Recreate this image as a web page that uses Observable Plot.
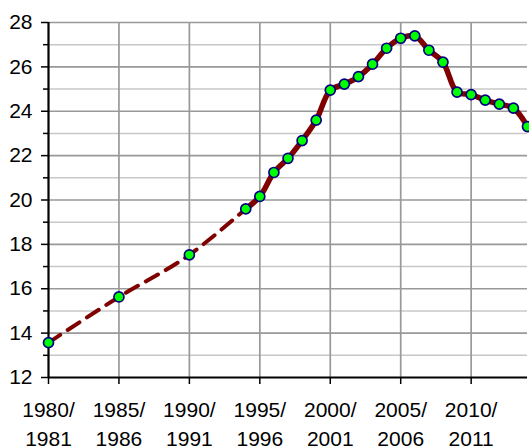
<!DOCTYPE html>
<html><head><meta charset="utf-8">
<script src="https://cdn.jsdelivr.net/npm/d3@7"></script>
<script src="https://cdn.jsdelivr.net/npm/@observablehq/plot@0.6"></script>
<style>body{margin:0;background:#fff;overflow:hidden}</style>
</head><body><div id="chart"></div>
<script>
const years = [1980,1985,1990,1994,1995,1996,1997,1998,1999,2000,2001,2002,2003,2004,2005,2006,2007,2008,2009,2010,2011,2012,2013,2014];
const values = [13.57,15.63,17.53,19.6,20.16,21.24,21.88,22.68,23.6,24.95,25.22,25.56,26.12,26.84,27.29,27.4,26.75,26.21,24.86,24.75,24.5,24.32,24.14,23.31];
const dashedYears = [1980,1985,1990,1994];
const xTicks = [1980,1985,1990,1995,2000,2005,2010];
const xTickLabels = ["1980/\n1981","1985/\n1986","1990/\n1991","1995/\n1996","2000/\n2001","2005/\n2006","2010/\n2011"];
const yMajor = [12,14,16,18,20,22,24,26,28];
const yMinor = [13,15,17,19,21,23,25,27];

const data = years.map((y,i)=>({year:y, value:values[i]}));
const dashedData = data.filter(d => d.year <= dashedYears[dashedYears.length-1]);
const solidData = data.filter(d => d.year >= dashedYears[dashedYears.length-1]);

const chart = Plot.plot({
  width: 529, height: 448,
  marginLeft: 48, marginRight: 2, marginTop: 22, marginBottom: 71,
  style: {fontFamily: "'Liberation Sans', Arial, sans-serif", fontSize: "21px", color: "#000", background: "#fff"},
  x: {domain: [1980, 2014], label: null},
  y: {domain: [12, 28], label: null},
  marks: [
    Plot.ruleY(yMinor, {stroke: "#c8c8c8", strokeWidth: 1.6}),
    Plot.ruleY(yMajor.slice(1), {stroke: "#999", strokeWidth: 1.7}),
    Plot.ruleX(xTicks.slice(1), {stroke: "#999", strokeWidth: 1.7}),
    Plot.axisY({ticks: yMinor, tickSize: 5, tickFormat: () => "", strokeWidth: 1.5}),
    Plot.axisY({ticks: yMajor, tickSize: 7, tickPadding: 9, fontSize: 21, strokeWidth: 1.5}),
    Plot.axisX({ticks: xTicks, tickSize: 7, tickPadding: 12, fontSize: 21, lineHeight: 1.37,
      tickFormat: (d) => xTickLabels[xTicks.indexOf(d)], strokeWidth: 1.5}),
    Plot.ruleX([1980], {stroke: "#000", strokeWidth: 2.2}),
    Plot.ruleY([12], {stroke: "#000", strokeWidth: 2.2}),
    Plot.line(dashedData, {x: "year", y: "value", stroke: "#800000", strokeWidth: 4, strokeDasharray: "14,9", curve: "monotone-x"}),
    Plot.line(solidData, {x: "year", y: "value", stroke: "#800000", strokeWidth: 5.5, curve: "catmull-rom"}),
    Plot.dot(data, {x: "year", y: "value", r: 5, fill: "#00ff00", stroke: "#000080", strokeWidth: 1.7})
  ]
});
document.getElementById("chart").appendChild(chart);
</script>
</body></html>
